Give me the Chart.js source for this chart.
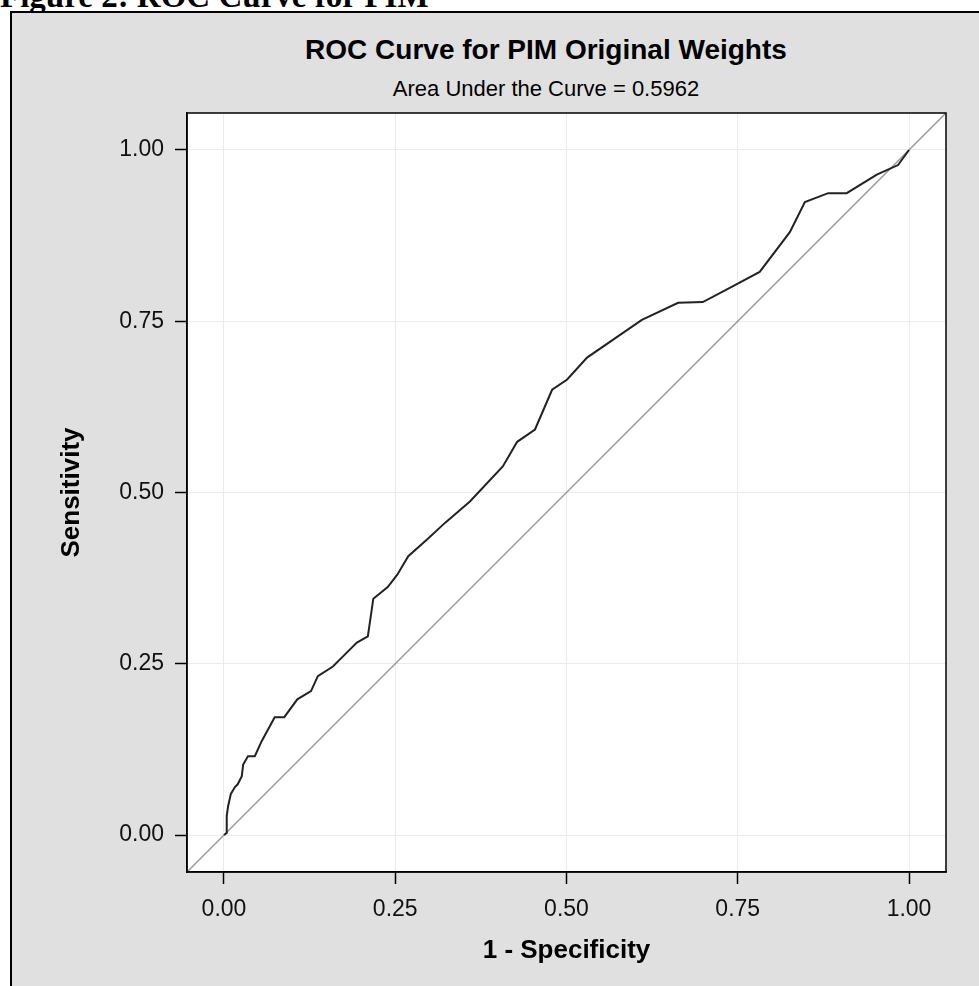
<!DOCTYPE html>
<html>
<head>
<meta charset="utf-8">
<script src="https://cdn.jsdelivr.net/npm/chart.js@4"></script>
<style>
  html, body { margin: 0; padding: 0; background: #fff; overflow: hidden; }
  body { width: 979px; height: 986px; position: relative; }
  #caption { position: absolute; left: 0; top: -20px; font: bold 33px 'Liberation Serif', serif; line-height: 33px; white-space: nowrap; color: #000; }
  #frame { position: absolute; left: 10px; top: 11px; width: 1100px; height: 1100px; border: 2px solid #000; background: #e0e0e0; }
  #title { position: absolute; left: 146px; width: 800px; top: 34px; text-align: center; font: bold 28px 'Liberation Sans', Arial, sans-serif; white-space: nowrap; color: #000; }
  #subtitle { position: absolute; left: 146px; width: 800px; top: 76px; text-align: center; font: 22px 'Liberation Sans', Arial, sans-serif; white-space: nowrap; color: #000; }
  #chart { position: absolute; left: 0; top: 0; }
</style>
</head>
<body>
<div id="caption">Figure 2: ROC Curve for PIM</div>
<div id="frame"></div>
<div id="title">ROC Curve for PIM Original Weights</div>
<div id="subtitle">Area Under the Curve = 0.5962</div>
<canvas id="chart" width="979" height="986"></canvas>
<script>
// ROC curve
const fpr = [0, 0.004, 0.004, 0.006, 0.010, 0.016, 0.020, 0.026, 0.028, 0.035, 0.045, 0.055, 0.074, 0.088, 0.107, 0.127, 0.137, 0.159, 0.177, 0.194, 0.210, 0.218, 0.239, 0.253, 0.269, 0.296, 0.323, 0.359, 0.407, 0.428, 0.454, 0.479, 0.501, 0.530, 0.610, 0.663, 0.699, 0.739, 0.782, 0.826, 0.848, 0.882, 0.909, 0.953, 0.984, 1.000];
const tpr = [0, 0.003, 0.028, 0.042, 0.060, 0.070, 0.074, 0.086, 0.103, 0.115, 0.115, 0.137, 0.172, 0.172, 0.198, 0.210, 0.232, 0.246, 0.264, 0.281, 0.290, 0.345, 0.362, 0.380, 0.407, 0.431, 0.456, 0.487, 0.538, 0.574, 0.592, 0.650, 0.665, 0.697, 0.752, 0.777, 0.778, 0.799, 0.822, 0.880, 0.924, 0.937, 0.937, 0.964, 0.978, 1.000];

const tickValues = [0, 0.25, 0.5, 0.75, 1];
const axisMin = -0.054;
const axisMax = 1.054;

const xTitle = '1 - Specificity';
const yTitle = 'Sensitivity';

// white plot background + box around it
const plotBox = {
    id: 'plotBox',
    beforeDraw(chart) {
        const { ctx, chartArea: a } = chart;
        ctx.save();
        ctx.fillStyle = '#fff';
        ctx.fillRect(a.left, a.top, a.right - a.left, a.bottom - a.top);
        ctx.restore();
    },
    afterDraw(chart) {
        const { ctx, chartArea: a } = chart;
        ctx.save();
        ctx.strokeStyle = '#000';
        ctx.lineWidth = 1.5;
        ctx.strokeRect(a.left, a.top, a.right - a.left, a.bottom - a.top);
        ctx.restore();
    }
};

function axis(title, isX) {
    return {
        type: 'linear',
        min: axisMin,
        max: axisMax,
        afterBuildTicks: (s) => { s.ticks = tickValues.map(v => ({ value: v })); },
        afterFit: (s) => {
            if (isX) s.height = 986 - 872;
            else s.width = 187;
        },
        grid: { color: '#ebebeb', lineWidth: 1, tickColor: '#000', tickLength: 12, tickWidth: 1.5 },
        border: { color: '#000', width: 1.5 },
        ticks: {
            color: '#111',
            padding: isX ? 12 : 11,
            font: { family: "'Liberation Sans', Arial", size: 23 },
            callback: (v) => v.toFixed(2)
        },
        title: {
            display: true,
            text: title,
            color: '#000',
            font: { family: "'Liberation Sans', Arial", size: 26, weight: 'bold' },
            padding: isX ? { top: 0, bottom: 20 } : { top: 56, bottom: 0 }
        }
    };
}

new Chart(document.getElementById('chart'), {
    type: 'scatter',
    data: {
        datasets: [
            {
                label: 'ROC',
                data: fpr.map((x, i) => ({ x: x, y: tpr[i] })),
                showLine: true,
                borderColor: '#222',
                borderWidth: 2,
                pointRadius: 0,
                tension: 0
            },
            {
                label: 'Chance',
                data: [{ x: axisMin, y: axisMin }, { x: axisMax, y: axisMax }],
                showLine: true,
                borderColor: '#9a9a9a',
                borderWidth: 1.5,
                pointRadius: 0
            }
        ]
    },
    options: {
        responsive: false,
        devicePixelRatio: 1,
        animation: false,
        layout: { padding: { left: 0, top: 113, right: 33, bottom: 0 } },
        plugins: { legend: { display: false }, tooltip: { enabled: false } },
        scales: {
            x: axis(xTitle, true),
            y: axis(yTitle, false)
        }
    },
    plugins: [plotBox]
});
</script>
</body>
</html>
